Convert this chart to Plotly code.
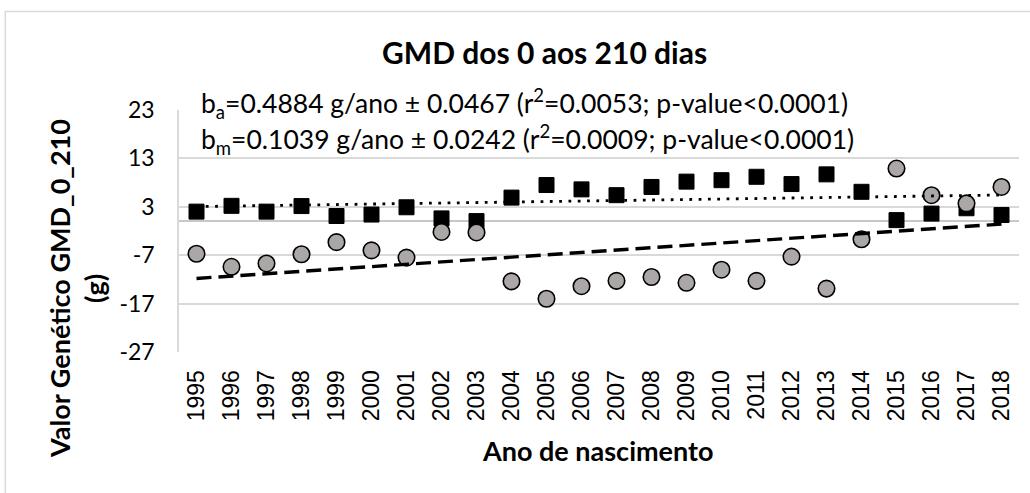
import plotly.graph_objects as go

years = [str(y) for y in range(1995, 2019)]
# b_m series (squares)
val_sq = [2.0, 3.2, 2.0, 3.15, 1.1, 1.4, 2.9, 0.6, 0.05, 4.9, 7.5, 6.6,
          5.4, 7.1, 8.2, 8.5, 9.2, 7.7, 9.7, 6.1, 0.25, 1.6, 2.7, 1.3]
# b_a series (circles)
val_ci = [-6.7, -9.4, -8.7, -6.8, -4.3, -6.0, -7.5, -2.2, -2.3, -12.4, -16.0, -13.4,
          -12.3, -11.5, -12.7, -10.0, -12.3, -7.3, -13.9, -3.7, 10.9, 5.4, 3.7, 7.1]
# trend lines (end points)
trend_x = ["1995", "2018"]
trend_sq = [3.05, 5.44]
trend_ci = [-11.8, -0.57]
y_ticks = [-27, -17, -7, 3, 13, 23]
y_ticktext = ["-27", "-17", "-7", "3", "13", "23"]

title_txt = "GMD dos 0 aos 210 dias"
line1 = "b<sub>a</sub>=0.4884 g/ano ± 0.0467 (r<sup>2</sup>=0.0053; p-value<0.0001)"
line2 = "b<sub>m</sub>=0.1039 g/ano ± 0.0242 (r<sup>2</sup>=0.0009; p-value<0.0001)"
ytitle_1 = "Valor Genético GMD_0_210"
ytitle_2 = "(g)"
xtitle = "Ano de nascimento"

W, H = 1030, 493
PX0, PX1, PY0, PY1 = 179.3, 1019.0, 110.0, 351.7

def px(x):
    return (x - PX0) / (PX1 - PX0)

def py(y):
    return (PY1 - y) / (PY1 - PY0)

FONT = "Lato"
fig = go.Figure()
fig.add_trace(go.Scatter(x=years, y=val_sq, mode="markers",
                         marker=dict(symbol="square", size=15, color="black",
                                     line=dict(color="black", width=1))))
fig.add_trace(go.Scatter(x=years, y=val_ci, mode="markers",
                         marker=dict(symbol="circle", size=16.5, color="#ABA7A7",
                                     line=dict(color="black", width=1.6))))
fig.add_trace(go.Scatter(x=trend_x, y=trend_sq, mode="lines",
                         line=dict(color="black", width=2.8, dash="2.8px,6.5px")))
fig.add_trace(go.Scatter(x=trend_x, y=trend_ci, mode="lines",
                         line=dict(color="black", width=3.4, dash="15px,7px")))

fig.update_layout(
    width=W, height=H, showlegend=False,
    paper_bgcolor="white", plot_bgcolor="white",
    margin=dict(l=PX0, r=W - PX1, t=PY0, b=H - PY1, autoexpand=False),
    font=dict(family=FONT, color="black"),
)
fig.update_xaxes(type="category", range=[-0.5, len(years) - 0.5],
                 tickangle=-90, showgrid=False, showline=False,
                 zeroline=False, ticks="outside", ticklen=8, tickcolor="rgba(0,0,0,0)",
                 tickfont=dict(family="Liberation Sans", size=23, color="black"))
fig.update_yaxes(range=[-27, 23], tickvals=y_ticks, ticktext=y_ticktext, showgrid=True,
                 gridcolor="#D9D9D9", gridwidth=1.5, showline=True,
                 linecolor="#D9D9D9", linewidth=1.5,
                 zeroline=True, zerolinecolor="#C8C8C8", zerolinewidth=2,
                 ticks="outside", ticklen=18, tickcolor="rgba(0,0,0,0)",
                 tickfont=dict(family=FONT, size=23, color="black"))

ann = []
ann.append(dict(text="<b>" + title_txt + "</b>", x=px(545), y=py(52), xref="paper", yref="paper",
                xanchor="center", yanchor="middle", showarrow=False,
                font=dict(family=FONT, size=30, color="black")))
ann.append(dict(text=line1, x=px(199), y=py(104), xref="paper", yref="paper",
                xanchor="left", yanchor="middle", showarrow=False,
                font=dict(family=FONT, size=26.5, color="black")))
ann.append(dict(text=line2, x=px(199), y=py(139), xref="paper", yref="paper",
                xanchor="left", yanchor="middle", showarrow=False,
                font=dict(family=FONT, size=26.5, color="black")))
ann.append(dict(text="<b>" + xtitle + "</b>", x=px(598), y=py(450), xref="paper", yref="paper",
                xanchor="center", yanchor="middle", showarrow=False,
                font=dict(family=FONT, size=27, color="black")))
ann.append(dict(text="<b>" + ytitle_1 + "</b>", x=px(60), y=py(288), xref="paper", yref="paper",
                xanchor="center", yanchor="middle", showarrow=False, textangle=-90,
                font=dict(family=FONT, size=27, color="black")))
ann.append(dict(text="<b>" + ytitle_2 + "</b>", x=px(95), y=py(288), xref="paper", yref="paper",
                xanchor="center", yanchor="middle", showarrow=False, textangle=-90,
                font=dict(family=FONT, size=27, color="black")))
fig.update_layout(annotations=ann)

fig.add_shape(type="rect", xref="paper", yref="paper",
              x0=px(5.7), x1=px(1040), y0=py(11.7), y1=py(510),
              line=dict(color="#D9D9D9", width=1.5), fillcolor="rgba(0,0,0,0)", layer="below")

fig.write_html("out.html", config={"displayModeBar": False},
               post_script="document.body.style.margin='0px';")
